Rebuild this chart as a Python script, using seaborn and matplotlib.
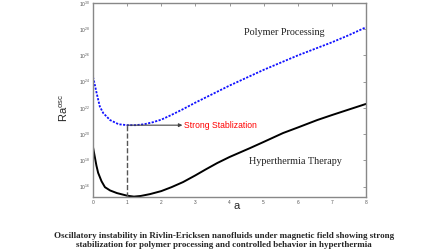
import numpy as np
import pandas as pd
import seaborn as sns
import matplotlib.pyplot as plt
from matplotlib.ticker import FixedLocator, NullLocator

# wave number a and log10(Ra_osc)
a_poly = [0, 0.05, 0.1, 0.2, 0.3, 0.5, 0.75, 1.0, 1.25, 1.5, 1.75, 2.0, 2.25, 2.6,
          3.0, 3.5, 4.0, 4.5, 5.0, 5.5, 6.0, 6.5, 7.0, 7.5, 8.0]
log_poly = [24.35, 23.8, 23.2, 22.1, 21.6, 21.07, 20.75, 20.68, 20.68, 20.75, 20.9, 21.1,
            21.4, 21.85, 22.4, 23.05, 23.7, 24.3, 24.9, 25.45, 26.0, 26.5, 27.0, 27.55, 28.15]

a_hyper = [0, 0.05, 0.1, 0.15, 0.25, 0.35, 0.5, 0.7, 1.0, 1.2, 1.4, 1.67, 2.0, 2.3, 2.64,
           3.0, 3.3, 3.64, 4.0, 4.6, 5.0, 5.57, 6.0, 6.57, 7.0, 7.54, 8.0]
log_hyper = [19.0, 18.3, 17.6, 17.05, 16.4, 15.95, 15.7, 15.5, 15.3, 15.23, 15.28, 15.42,
             15.65, 15.95, 16.34, 16.85, 17.3, 17.79, 18.25, 18.93, 19.4, 20.08, 20.5,
             21.07, 21.45, 21.91, 22.3]

a_crit = 1.0
log_crit = 20.68

caption = ("Oscillatory instability in Rivlin-Ericksen nanofluids under magnetic field showing strong\n"
           "stabilization for polymer processing and controlled behavior in hyperthermia")

df_poly = pd.DataFrame({'a': a_poly, 'Ra': 10.0 ** np.array(log_poly)})
df_hyper = pd.DataFrame({'a': a_hyper, 'Ra': 10.0 ** np.array(log_hyper)})

sns.set_style('white')
plt.rcParams['font.family'] = ['Liberation Sans', 'DejaVu Sans']
plt.rcParams['mathtext.fontset'] = 'custom'
plt.rcParams['mathtext.rm'] = 'Liberation Sans'

fig = plt.figure(figsize=(4.48, 2.52), dpi=100)
ax = fig.add_axes([93 / 448, 55 / 252, 273 / 448, 194 / 252])

sns.lineplot(data=df_poly, x='a', y='Ra', ax=ax, color='#1010ff', lw=1.3,
             linestyle=(0, (1.2, 0.8)), estimator=None, sort=False)
sns.lineplot(data=df_hyper, x='a', y='Ra', ax=ax, color='black', lw=1.4,
             estimator=None, sort=False)

ax.set_yscale('log')
ax.set_xlim(0, 8)
ax.set_ylim(10 ** 15.2, 1e30)
ax.yaxis.set_major_locator(FixedLocator(10.0 ** np.arange(16, 31, 2)))
ax.yaxis.set_minor_locator(NullLocator())
ax.set_xticks(range(0, 9))

for s in ax.spines.values():
    s.set_color('#888888')
    s.set_linewidth(1.0)
ax.tick_params(direction='in', length=2, width=0.6, colors='#888888',
               labelsize=3.5, labelcolor='#555555', top=True, right=True, pad=2)

# critical point marker
ax.plot([a_crit, a_crit], [10 ** 15.2, 10 ** log_crit], ls='--', color='#555555', lw=1.0)
ax.annotate('', xy=(2.62, 10 ** log_crit), xytext=(a_crit, 10 ** log_crit),
            arrowprops=dict(arrowstyle='-|>', color='#444444', lw=0.8,
                            mutation_scale=5, shrinkA=0, shrinkB=0))
ax.text(2.66, 10 ** log_crit, 'Strong Stablization', color='red', fontsize=6.2,
        va='center', ha='left')

ax.text(5.6, 10 ** 27.75, 'Polymer Processing', family='Liberation Serif', fontsize=7.3,
        ha='center', va='center', color='#222222')
ax.text(5.94, 10 ** 17.94, 'Hyperthermia Therapy', family='Liberation Serif', fontsize=7.3,
        ha='center', va='center', color='#222222')

ax.set_xlabel('a', fontsize=8)
ax.xaxis.set_label_coords(0.527, -0.02)
ax.set_ylabel(r'$\mathregular{Ra^{osc}}$', fontsize=8)
ax.yaxis.set_label_coords(-0.085, 0.46)

fig.text(0.5, 1 - 240.7 / 252, caption, ha='center', va='center', fontsize=6.5,
         family='Liberation Serif', weight='bold', linespacing=1.1)

fig.savefig('out.png', dpi=100)
